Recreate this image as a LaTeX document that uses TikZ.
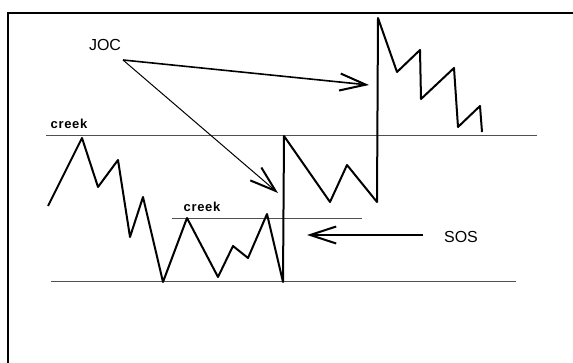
\documentclass[tikz,border=0pt]{standalone}
\usepackage{fontspec}
\setmainfont{Liberation Sans}
\usetikzlibrary{arrows.meta}
\definecolor{wyink}{HTML}{000000}
\definecolor{wyrule}{HTML}{505050}
\tikzset{
  frame/.style={draw=wyink, line width=1.5pt},
  level/.style={draw=wyrule, line width=1pt},
  price/.style={draw=wyink, line width=2pt, line join=round},
  lbl/.style={font=\fontsize{16}{18}\selectfont, inner sep=0pt},
  tag/.style={font=\fontsize{13}{14}\selectfont\bfseries\addfontfeature{LetterSpace=5}, inner sep=0pt},
  arr/.style={-{Straight Barb[length=26pt,width=17pt,line width=2pt]}, line width=1.6pt, draw=wyink},
}
\begin{document}
\begin{tikzpicture}[x=1pt,y=-1pt]
  \useasboundingbox (0,0) rectangle (573,363);
  \draw[frame] (8,363) -- (8,13) -- (573,13);
  \draw[level] (46,136) -- (537,136);
  \draw[level] (172,219) -- (362,219);
  \draw[level] (51,282) -- (516,282);
  \node[tag] (creekhi) at (69,124) {creek};
  \node[tag] (creeklo) at (202,207) {creek};
  \node[lbl] (joc) at (105,45) {JOC};
  \node[lbl] (sos) at (461,237) {SOS};
  \coordinate (jocpt) at (123,60);
  \coordinate (sospt) at (423,235);
  \coordinate (utad) at (369,85);
  \coordinate (spring) at (278,193);
  \coordinate (lps) at (307,235);
  \draw[price] (48,206) -- (82,138) -- (98,187) -- (118,160) -- (130,237) -- (143,197)
    -- (163,282) -- (187,218) -- (218,277) -- (233,246) -- (248,258) -- (267,214)
    -- (283,282) -- (284,136) -- (330,202) -- (347,165) -- (377,202) -- (378,18)
    -- (397,72) -- (420,50) -- (421,99) -- (454,68) -- (458,127) -- (480,106) -- (482,132);
  \draw[arr] (jocpt) -- (utad);
  \draw[arr, line width=1pt] (jocpt) -- (spring);
  \draw[arr] (sospt) -- (lps);
\end{tikzpicture}
\end{document}
